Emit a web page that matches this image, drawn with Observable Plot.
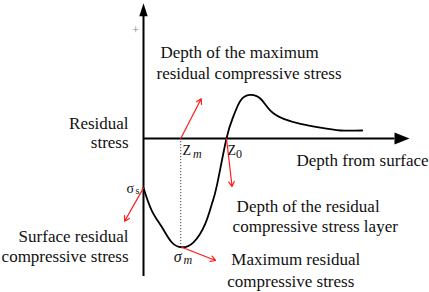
<!DOCTYPE html>
<html><head><meta charset="utf-8">
<script src="https://cdn.jsdelivr.net/npm/d3@7"></script>
<script src="https://cdn.jsdelivr.net/npm/@observablehq/plot@0.6"></script>
<style>
body{margin:0;background:#fff}
svg{overflow:visible}
#chart svg text{font-family:"Liberation Serif","Times New Roman","DejaVu Serif",serif}
</style>
</head><body><div id="chart"></div>
<script>
// residual stress profile (schematic): depth vs stress
const depth  = [0, 0.31, 0.69, 1.06, 1.44, 1.88, 2.32, 2.57, 2.76, 3.12, 3.39, 3.65, 4.00, 4.40, 4.77, 5.27, 5.90, 6.65, 7.41, 8.22];
const stress = [-1.79, -2.61, -3.21, -3.76, -3.94, -3.76, -3.09, -2.37, -1.70, 0, 0.83, 1.38, 1.58, 1.44, 1.01, 0.71, 0.53, 0.39, 0.29, 0.29];
const Zm = 1.40, Z0 = 3.12, sigmaS = -1.79, sigmaM = -3.94;

// red pointer arrows: from, to
const arrowFromX = [Zm, Z0, 0, 1.44];
const arrowFromY = [0, 0, sigmaS, sigmaM];
const arrowToX   = [2.17, 3.33, -0.71, 2.71];
const arrowToY   = [1.44, -1.74, -3.00, -4.42];

// annotation texts
const labelText = ["Depth of the maximum", "residual compressive stress", "Residual", "stress",
  "Depth from surface", "Depth of the residual", "compressive stress layer",
  "Surface residual", "compressive stress", "Maximum residual", "compressive stress"];
const labelX = [0.64, 0.49, -0.56, -0.56, 5.75, 3.50, 3.35, -0.56, -0.56, 3.30, 3.15];
const labelY = [2.90, 2.17, 0.36, -0.33, -0.98, -2.67, -3.39, -3.76, -4.48, -4.60, -5.39];
const labelAnchor = ["start","start","end","end","start","start","start","end","end","start","start"];

const profile = depth.map((d, i) => ({depth: d, stress: stress[i]}));
const arrows = arrowFromX.map((d, i) => ({x1: d, y1: arrowFromY[i], x2: arrowToX[i], y2: arrowToY[i]}));
const labels = labelText.map((t, i) => ({text: t, x: labelX[i], y: labelY[i], anchor: labelAnchor[i]}));

const headUp = {draw(c) { c.moveTo(0, 0); c.lineTo(-4.2, 13); c.lineTo(4.2, 13); c.closePath(); }};
const headRight = {draw(c) { c.moveTo(0, 0); c.lineTo(-15, -6); c.lineTo(-15, 6); c.closePath(); }};

const labelsStart = labels.filter(d => d.anchor === "start");
const labelsEnd = labels.filter(d => d.anchor === "end");
const T = (t, x, y, o) => Plot.text([t], {x: () => x, y: () => y, text: d => d, textAnchor: "start", lineAnchor: "bottom", fill: "#111", ...o});

const chart = Plot.plot({
  width: 429, height: 292,
  marginLeft: 143, marginRight: 20, marginTop: 0, marginBottom: 16,
  x: {domain: [0, 10], axis: null},
  y: {domain: [-5, 5], axis: null},
  style: {background: "#fff", color: "#111"},
  marks: [
    Plot.ruleX([Zm], {y1: 0, y2: sigmaM, stroke: "#444", strokeWidth: 1, strokeDasharray: "1.2,1.8"}),
    Plot.ruleY([0], {x1: 0, x2: 9.45, stroke: "#000", strokeWidth: 2}),
    Plot.ruleX([0], {y1: -5, y2: 4.5, stroke: "#000", strokeWidth: 2}),
    Plot.dot([{x: 0, y: 4.9}], {x: "x", y: "y", symbol: headUp, r: 5, fill: "#000", stroke: "none"}),
    Plot.dot([{x: 10, y: 0}], {x: "x", y: "y", symbol: headRight, r: 5, fill: "#000", stroke: "none"}),
    Plot.line(profile, {x: "depth", y: "stress", curve: "natural", stroke: "#000", strokeWidth: 1.8}),
    Plot.arrow(arrows, {x1: "x1", y1: "y1", x2: "x2", y2: "y2", stroke: "#ff1a1a", strokeWidth: 1.2, headLength: 7}),
    Plot.text(labelsStart, {x: "x", y: "y", text: "text", textAnchor: "start", lineAnchor: "bottom", fontSize: 17, fill: "#111"}),
    Plot.text(labelsEnd, {x: "x", y: "y", text: "text", textAnchor: "end", lineAnchor: "bottom", fontSize: 17, fill: "#111"}),
    T("+", -0.43, 3.8, {fontSize: 13, fill: "#8a8a8a"}),
    // symbols
    T("Z", 1.47, -0.58, {fontSize: 14}),
    T("m", 1.86, -0.69, {fontSize: 12, fontStyle: "italic"}),
    T("Z", 3.16, -0.58, {fontSize: 14}),
    T("0", 3.48, -0.69, {fontSize: 12}),
    T("σ", -0.64, -1.96, {fontSize: 14}),
    T("s", -0.30, -2.0, {fontSize: 10}),
    T("σ", 1.14, -4.46, {fontSize: 16, fontStyle: "italic"}),
    T("m", 1.50, -4.55, {fontSize: 12, fontStyle: "italic"})
  ]
});
document.getElementById("chart").append(chart);
</script>
</body></html>
